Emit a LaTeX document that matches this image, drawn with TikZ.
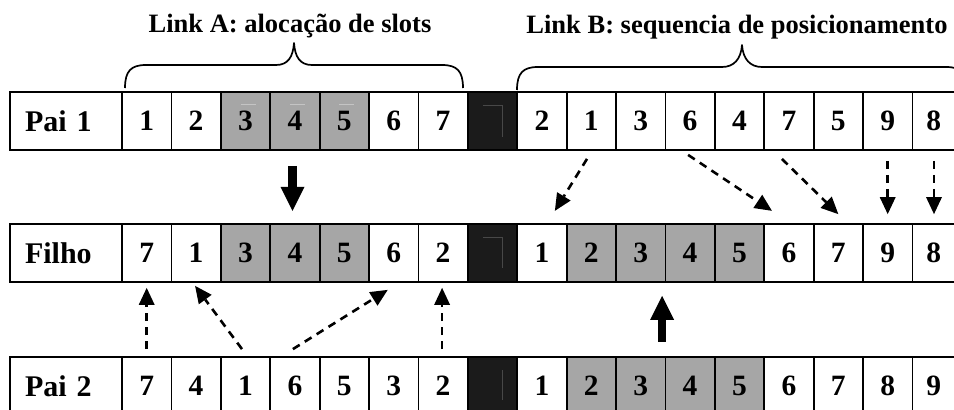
\documentclass[tikz,border=0pt]{standalone}
\usepackage{fontspec}
\setmainfont{Liberation Serif}
\usetikzlibrary{arrows.meta}
\definecolor{cellgray}{RGB}{166,166,166}
\definecolor{sepblack}{RGB}{27,27,27}
\definecolor{seamgray}{RGB}{72,72,72}
\definecolor{glint}{RGB}{196,196,196}
\begin{document}
\begin{tikzpicture}[x=1pt,y=-1pt,
  cell/.style={draw=black, line width=1.8pt, minimum width=49.4pt,
    minimum height=58pt, inner sep=0pt,
    font=\fontsize{29.5}{34}\selectfont\bfseries},
  cellw/.style={cell, fill=white},
  cellg/.style={cell, fill=cellgray},
  sepcell/.style={cell, fill=sepblack},
  lastcell/.style={minimum width=42.6pt},
  rowlabel/.style={draw=black, fill=white, line width=1.8pt, minimum height=58pt,
    text width=82pt, inner xsep=15pt, inner ysep=0pt, align=left,
    font=\fontsize{30}{34}\selectfont\bfseries},
  title/.style={anchor=base, inner sep=0pt,
    font=\fontsize{26.5}{30}\selectfont\bfseries},
  brace/.style={line width=1.7pt, line join=round},
  seam/.style={draw=seamgray, line width=0.8pt},
  sheen/.style={draw=glint, line width=0.7pt},
  dasharrow/.style={line width=2.6pt, dash pattern=on 8pt off 6pt,
    -{Triangle[length=17pt,width=16pt,line width=0pt]}},
  boldarrow/.style={line width=8.6pt,
    -{Triangle[length=24pt,width=24pt,line width=0pt]}},
]
\useasboundingbox (0,0) rectangle (954,410);

% ---- titles and braces
\node[title] (linkA) at (290,32) {Link A: alocação de slots};
\node[title] (linkB) at (737,33) {Link B: sequencia de posicionamento};
\draw[brace] (125,88) .. controls (125,71) and (131,65) .. (146,65)
  -- (276,65) .. controls (288,65) and (293,57) .. (294,43)
  .. controls (295,57) and (300,65) .. (312,65)
  -- (442,65) .. controls (457,65) and (463,71) .. (463,88);
\draw[brace] (517,90) .. controls (517,73) and (523,67) .. (538,67)
  -- (722,67) .. controls (734,67) and (741,59) .. (742,45)
  .. controls (743,59) and (750,67) .. (762,67)
  -- (946,67) .. controls (961,67) and (967,73) .. (967,90);

% ---- row: Pai 1
\node[rowlabel] (p1lab) at (66,121) {Pai 1};
\foreach \v/\s [count=\i] in {1/w,2/w,3/g,4/g,5/g,6/w,7/w}
  \node[cell\s] (p1L\i) at ({122+49.4*(\i-0.5)},121) {\v};
\node[sepcell] (p1S) at (492.5,121) {};
\foreach \v/\s [count=\i] in {2/w,1/w,3/w,6/w,4/w,7/w,5/w,9/w}
  \node[cell\s] (p1R\i) at ({517.2+49.4*(\i-0.5)},121) {\v};
\node[cellw, lastcell] (p1R9) at (933.7,121) {8};

% ---- row: Filho
\node[rowlabel] (filab) at (66,253) {Filho};
\foreach \v/\s [count=\i] in {7/w,1/w,3/g,4/g,5/g,6/w,2/w}
  \node[cell\s] (fiL\i) at ({122+49.4*(\i-0.5)},253) {\v};
\node[sepcell] (fiS) at (492.5,253) {};
\foreach \v/\s [count=\i] in {1/w,2/g,3/g,4/g,5/g,6/w,7/w,9/w}
  \node[cell\s] (fiR\i) at ({517.2+49.4*(\i-0.5)},253) {\v};
\node[cellw, lastcell] (fiR9) at (933.7,253) {8};

% ---- row: Pai 2
\node[rowlabel] (p2lab) at (66,386) {Pai 2};
\foreach \v/\s [count=\i] in {7/w,4/w,1/w,6/w,5/w,3/w,2/w}
  \node[cell\s] (p2L\i) at ({122+49.4*(\i-0.5)},386) {\v};
\node[sepcell] (p2S) at (492.5,386) {};
\foreach \v/\s [count=\i] in {1/w,2/g,3/g,4/g,5/g,6/w,7/w,8/w}
  \node[cell\s] (p2R\i) at ({517.2+49.4*(\i-0.5)},386) {\v};
\node[cellw, lastcell] (p2R9) at (933.7,386) {9};

% ---- faint seams inside the dark separators and sheen on shaded cells
\draw[seam] (482.7,105.7) -- (502.3,105.7) -- (502.3,136.7);
\draw[seam] (483,237.3) -- (502.3,237.3) -- (502.3,268);
\draw[seam] (502.3,370) -- (502.3,400);
\foreach \i in {3,4,5}
  \draw[sheen] ([shift={(-5,-17)}]p1L\i.center) -- ([shift={(10,-17)}]p1L\i.center);

% ---- bold arrows
\draw[boldarrow] ([shift={(-2.4,15)}]p1L4.south) -- ([shift={(-2.4,-12.3)}]fiL4.north);
\draw[boldarrow] ([shift={(-2.4,-14.3)}]p2R4.north west) -- ([shift={(-2.4,13)}]fiR4.south west);

% ---- dashed arrows: Pai 1 -> Filho
\draw[dasharrow] ([shift={(-4.3,8)}]p1R2.south) -- ([shift={(13,-12.3)}]fiR1.north);
\draw[dasharrow] ([shift={(-2,4)}]p1R4.south) -- ([shift={(-17,-12.3)}]fiR6.north);
\draw[dasharrow] ([shift={(-7,8)}]p1R6.south) -- ([shift={(0,-9)}]fiR7.north);
\draw[dasharrow] ([shift={(0,10)}]p1R8.south) -- ([shift={(0,-9)}]fiR8.north);
\draw[dasharrow] ([shift={(0.3,10)}]p1R9.south) -- ([shift={(0.3,-9)}]fiR9.north);

% ---- dashed arrows: Pai 2 -> Filho
\draw[dasharrow] ([shift={(0,-7)}]p2L1.north) -- ([shift={(0,5)}]fiL1.south);
\draw[dasharrow] ([shift={(-3.5,-7)}]p2L3.north) -- ([shift={(-1,3)}]fiL2.south);
\draw[dasharrow] ([shift={(-2,-7)}]p2L4.north) -- ([shift={(-6,7)}]fiL6.south);
\draw[dasharrow] ([shift={(-1,-7)}]p2L7.north) -- ([shift={(-1,5)}]fiL7.south);
\end{tikzpicture}
\end{document}
